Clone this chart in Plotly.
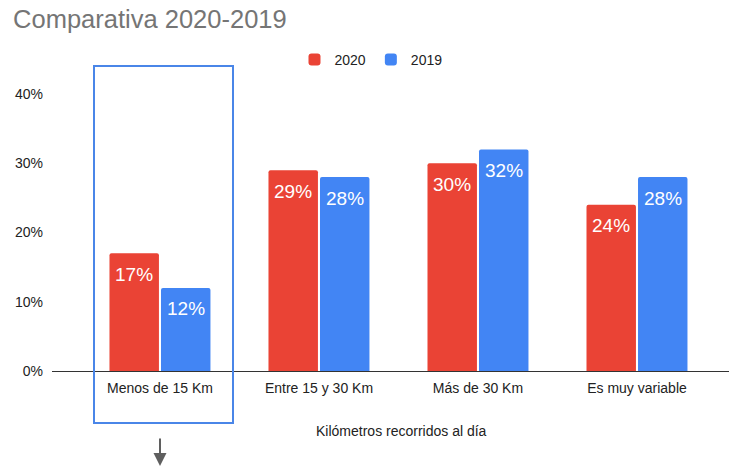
import plotly.graph_objects as go

categorias = ["Menos de 15 Km", "Entre 15 y 30 Km", "Más de 30 Km", "Es muy variable"]
valores_2020 = [0.17, 0.29, 0.30, 0.24]
valores_2019 = [0.12, 0.28, 0.32, 0.28]
ticks_y = [0, 0.1, 0.2, 0.3, 0.4]
etiquetas_y = ["0%", "10%", "20%", "30%", "40%"]

FONT = "Arial, Liberation Sans, sans-serif"
ROJO = "#ea4335"
AZUL = "#4285f4"

fig = go.Figure()
series = [("2020", valores_2020, ROJO, -26), ("2019", valores_2019, AZUL, 26)]
for nombre, vals, color, desplaz in series:
    fig.add_trace(
        go.Bar(
            name=nombre,
            x=list(range(len(categorias))),
            y=vals,
            marker=dict(color=color, cornerradius=2, line=dict(width=0)),
        )
    )
    # etiquetas de datos dentro de la barra, cerca del extremo superior
    for i, v in enumerate(vals):
        fig.add_annotation(
            x=i, y=v, xref="x", yref="y",
            xshift=desplaz, yshift=-21,
            text=f"{round(v * 100)}%",
            showarrow=False,
            font=dict(family=FONT, size=19, color="white"),
        )

# la página añade 8px de margen, así que la figura ocupa 729x460
fig.update_layout(
    width=729,
    height=460,
    margin=dict(l=44, r=0, t=58, b=97, autoexpand=False),
    paper_bgcolor="white",
    plot_bgcolor="white",
    font=dict(family=FONT, size=14, color="#222222"),
    barmode="group",
    bargap=0.352,
    bargroupgap=0.04,
    title=dict(
        text="Comparativa 2020-2019",
        font=dict(family=FONT, size=25.5, color="#757575"),
        x=0.007, xanchor="left", xref="container",
        y=0.977, yanchor="middle", yref="container",
    ),
    legend=dict(
        orientation="h",
        xref="container", yref="container",
        x=0.393, xanchor="left",
        y=0.887, yanchor="middle",
        font=dict(family=FONT, size=14, color="#222222"),
    ),
    showlegend=True,
)

fig.update_xaxes(
    range=[-0.679, 3.629],
    tickmode="array",
    tickvals=list(range(len(categorias))),
    ticktext=categorias,
    showgrid=False,
    zeroline=False,
    showline=True,
    linecolor="#333333",
    linewidth=1,
    ticks="",
    ticklabelstandoff=4,
    automargin=False,
    tickfont=dict(family=FONT, size=14, color="#222222"),
)
fig.update_yaxes(
    range=[0, 0.4404],
    tickvals=ticks_y,
    ticktext=etiquetas_y,
    showgrid=False,
    zeroline=False,
    showline=False,
    ticks="",
    ticklabelstandoff=8,
    automargin=False,
    tickfont=dict(family=FONT, size=14, color="#222222"),
)

# titulo del eje x
fig.add_annotation(
    text="Kilómetros recorridos al día",
    xref="paper", yref="paper",
    x=(401 - 52) / 685, y=(371 - 431) / 305,
    xanchor="center", yanchor="middle",
    showarrow=False,
    font=dict(family=FONT, size=14, color="#222222"),
)

# recuadro resaltando la primera categoría
fig.add_shape(
    type="rect",
    xref="paper", yref="paper",
    x0=(94 - 52) / 685, x1=(233 - 52) / 685,
    y0=(371 - 423) / 305, y1=1.0,
    line=dict(color="#4a86e8", width=2),
    fillcolor="rgba(0,0,0,0)",
    layer="above",
)

# flecha hacia abajo
fig.add_annotation(
    x=(160 - 52) / 685, y=(371 - 466) / 305,
    xref="paper", yref="paper",
    ax=0, ay=-29,
    showarrow=True,
    arrowhead=2,
    arrowsize=1.3,
    arrowwidth=2,
    arrowcolor="#5f5f5f",
    text="",
)

fig.write_html("out.html")
